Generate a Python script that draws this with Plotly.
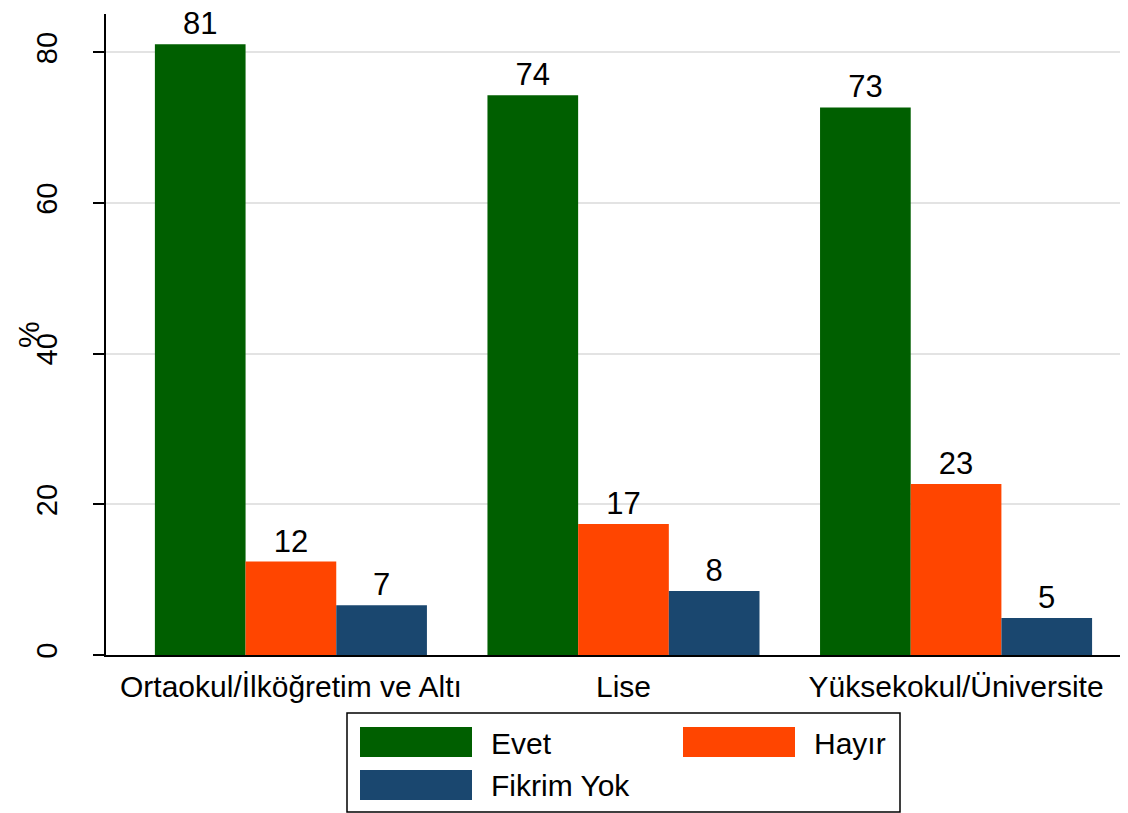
import plotly.graph_objects as go

categories = ["Ortaokul/İlköğretim ve Altı", "Lise", "Yüksekokul/Üniversite"]
series_names = ["Evet", "Hayır", "Fikrim Yok"]
evet = [81.1, 74.3, 72.7]
hayir = [12.4, 17.4, 22.7]
fikrim_yok = [6.6, 8.5, 4.9]
colors = ["#005F00", "#FF4500", "#1A476F"]

FONT = "Liberation Sans, Arial, sans-serif"
OFF = 8  # page body margin
W, H = 1128 - OFF, 813 - OFF
L, R, T, B = 106 - OFF, 0, 14 - OFF, 158

fig = go.Figure()
for name, vals, col in zip(series_names, [evet, hayir, fikrim_yok], colors):
    fig.add_trace(go.Bar(
        x=categories, y=vals, name=name,
        marker=dict(color=col, line=dict(width=0)),
        text=[f"{v:.0f}" for v in vals],
        textposition="outside",
        textfont=dict(size=31, color="black", family=FONT),
        cliponaxis=False,
        showlegend=False,
    ))

# legend drawn by hand to mimic the large Stata swatches
def px2paper(x, y):
    x, y = x - OFF, y - OFF
    return (x - L) / (W - L - R), (H - B - y) / (H - T - B)

shapes = []
annotations = []
x0, y0 = px2paper(347, 713)
x1, y1 = px2paper(900, 812)
shapes.append(dict(type="rect", xref="paper", yref="paper", x0=x0, x1=x1, y0=y0, y1=y1,
                   line=dict(color="black", width=1.5), fillcolor="white"))
legend_pos = [(360, 727), (683, 727), (360, 770)]
for name, col, (sx, sy) in zip(series_names, colors, legend_pos):
    a0, b0 = px2paper(sx, sy)
    a1, b1 = px2paper(sx + 112, sy + 30)
    shapes.append(dict(type="rect", xref="paper", yref="paper", x0=a0, x1=a1, y0=b0, y1=b1,
                       line=dict(width=0), fillcolor=col))
    tx, ty = px2paper(sx + 129, sy + 16)
    annotations.append(dict(xref="paper", yref="paper", x=tx, y=ty, text=name,
                            showarrow=False, xanchor="left", yanchor="middle",
                            font=dict(size=30, color="black", family=FONT)))

# y axis title
ax, ay = px2paper(28, 335)
annotations.append(dict(xref="paper", yref="paper", x=ax, y=ay, text="%", textangle=-90,
                        showarrow=False, xanchor="center", yanchor="middle",
                        font=dict(size=30, color="black", family=FONT)))

fig.update_layout(
    width=W, height=H,
    barmode="group", bargap=0.182, bargroupgap=0,
    plot_bgcolor="white", paper_bgcolor="white",
    margin=dict(l=L, r=R, t=T, b=B, autoexpand=False),
    font=dict(family=FONT, size=30, color="black"),
    shapes=shapes, annotations=annotations,
    xaxis=dict(range=[-0.556, 2.517], showline=True, linecolor="black", linewidth=2,
               ticks="", tickfont=dict(size=30), showgrid=False, ticklabelstandoff=4),
    yaxis=dict(range=[0, 85.1], showline=True, linecolor="black", linewidth=2,
               tickvals=[0, 20, 40, 60, 80], ticks="outside", ticklen=11, tickwidth=2,
               tickcolor="black", tickangle=-90, tickfont=dict(size=29),
               ticklabelstandoff=24,
               showgrid=True, gridcolor="#E3E3E3", gridwidth=2, zeroline=False),
)

fig.write_html("out.html")
